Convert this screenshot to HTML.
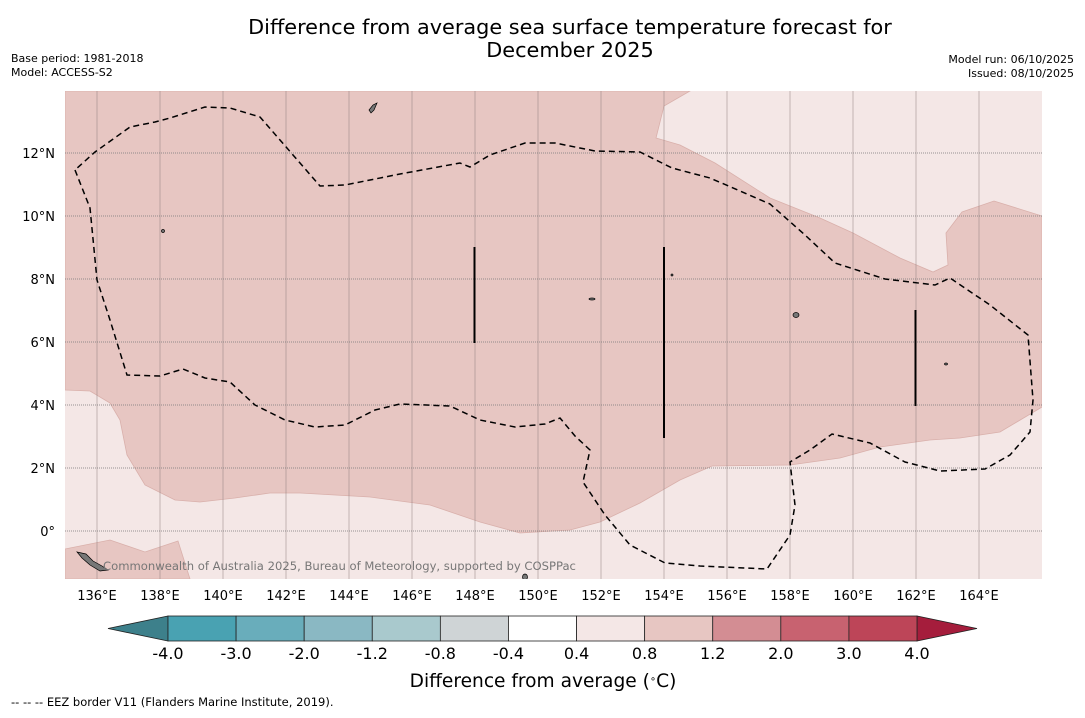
<!DOCTYPE html>
<html><head><meta charset="utf-8"><style>
body{margin:0;background:#fff;font-family:"Liberation Sans","DejaVu Sans",sans-serif}
svg text{font-family:"DejaVu Sans","Liberation Sans",sans-serif}
</style></head><body>
<svg id="chart" width="1085" height="713" viewBox="0 0 1085 713" xmlns="http://www.w3.org/2000/svg">
<rect width="1085" height="713" fill="#fff"/>
<text x="570" y="34" font-size="20.8" text-anchor="middle">Difference from average sea surface temperature forecast for</text>
<text x="570" y="57" font-size="20.8" text-anchor="middle">December 2025</text>
<text x="11" y="62" font-size="11">Base period: 1981-2018</text>
<text x="11" y="76" font-size="11">Model: ACCESS-S2</text>
<text x="1074" y="63" font-size="11" text-anchor="end">Model run: 06/10/2025</text>
<text x="1074" y="77" font-size="11" text-anchor="end">Issued: 08/10/2025</text>
<defs><clipPath id="mc"><rect x="65" y="91" width="977" height="488"/></clipPath></defs>
<g clip-path="url(#mc)">
<rect x="65" y="91" width="977" height="488" fill="#f4e7e6"/>
<polygon fill="#e7c6c2" stroke="#d9b0ab" stroke-width="0.8" points="65,91 690,91 664,106 656,138 680,145 715,163 770,198 820,218 853,233 900,258 933,272 948,265 946,233 962,212 994,201 1042,216 1042,407 1000,432 960,438 930,440 880,447 840,458 790,465 712,466 680,480 640,503 600,522 570,530 520,533 480,522 430,505 370,497 300,493 270,493 235,498 200,502 175,500 145,485 127,455 120,420 110,403 90,391 65,390"/>
<polygon fill="#e7c6c2" stroke="#d9b0ab" stroke-width="0.8" points="65,549 110,540 145,552 178,541 190,579 65,579"/>
<g id="grid"></g>
<polyline fill="none" stroke="#000" stroke-width="1.5" stroke-dasharray="6,4" points="75,170 90,208 97,280 110,320 127,375 160,376 183,369 205,378 230,382 255,405 285,420 315,427 345,425 375,410 400,404 450,406 480,420 515,427 545,424 560,418 575,436 590,450 583,482 605,515 630,545 665,563 700,566 767,569 790,535 795,505 790,462 810,450 832,434 870,443 905,462 940,471 985,469 1010,455 1030,432 1033,400 1028,335 990,305 950,278 935,285 885,279 835,263 805,235 770,204 710,178 672,168 640,152 595,151 555,143 525,143 490,155 470,167 460,163 400,174 345,185 320,186 300,163 260,117 230,108 205,107 170,118 155,122 130,127 95,152 75,170"/>
<line x1="474.5" y1="247" x2="474.5" y2="343" stroke="#000" stroke-width="2"/>
<line x1="664" y1="247" x2="664" y2="438" stroke="#000" stroke-width="2"/>
<line x1="915.5" y1="310" x2="915.5" y2="406" stroke="#000" stroke-width="2"/>
<g fill="#777" stroke="#000" stroke-width="0.7">
<path d="M77,552 L86,554 L93,561 L102,566 L108,570 L100,571 L90,565 L82,558Z"/>
<path d="M369,110 L373,105 L377,103 L374,110 L371,113Z"/>
<ellipse cx="796" cy="315" rx="3" ry="2.5"/>
<ellipse cx="163" cy="231" rx="1.5" ry="1.5"/>
<ellipse cx="592" cy="299" rx="3" ry="1"/>
<ellipse cx="946" cy="364" rx="1.5" ry="1"/>
<ellipse cx="525" cy="577" rx="2.5" ry="3"/>
<ellipse cx="672" cy="275" rx="1" ry="1"/>
</g>
<text x="103" y="570" font-size="11.6" fill="#777">Commonwealth of Australia 2025, Bureau of Meteorology, supported by COSPPac</text>
</g>
<g id="axes"></g>
<g id="cbar"></g>
<text x="543" y="687" font-size="18.6" text-anchor="middle">Difference from average (<tspan baseline-shift="super" font-size="10">∘</tspan>C)</text>
<text x="11" y="706" font-size="11.5">--  --  -- EEZ border V11 (Flanders Marine Institute, 2019).</text>
</svg>
<script>
const lonTicks=[136,138,140,142,144,146,148,150,152,154,156,158,160,162,164];
const latTicks=[0,2,4,6,8,10,12];
const cbLevels=[-4.0,-3.0,-2.0,-1.2,-0.8,-0.4,0.4,0.8,1.2,2.0,3.0,4.0];
const cbColors=["#49a2b2","#69adbb","#8ab8c3","#a9c9cd","#cfd4d6","#ffffff","#f4e7e6","#e7c6c2","#d38d93","#c86270","#bd4558"];
const cbLow="#3d808b", cbHigh="#a51d3c";
const NS="http://www.w3.org/2000/svg";
const X=lon=>97+(lon-136)*31.5, Y=lat=>531-lat*31.5;
function mk(p,t,a){const e=document.createElementNS(NS,t);for(const k in a)e.setAttribute(k,a[k]);p.appendChild(e);return e;}
const grid=document.getElementById('grid'),axes=document.getElementById('axes'),cb=document.getElementById('cbar');
lonTicks.forEach(l=>{
 const g=mk(grid,'line',{x1:X(l),x2:X(l),y1:91,y2:579,stroke:'#8c7c7c','stroke-width':0.8,'stroke-opacity':0.6});
 
 
 const t=mk(axes,'text',{x:X(l),y:600,'font-size':13,'text-anchor':'middle'});t.textContent=l+'°E';
 
 
});
latTicks.forEach(l=>{
 const g=mk(grid,'line',{x1:65,x2:1042,y1:Y(l),y2:Y(l),stroke:'#777','stroke-width':0.8,'stroke-dasharray':'1,1'});
 
 
 const t=mk(axes,'text',{x:55,y:Y(l)+5,'font-size':13,'text-anchor':'end'});t.textContent=l===0?'0°':l+'°N';
 
 
});
const c0=168,c1=917,cy=616,ch=25,n=cbColors.length,w=(c1-c0)/n;
const lt=mk(cb,'polygon',{points:`108,${cy+ch/2} ${c0},${cy} ${c0},${cy+ch}`,fill:cbLow,stroke:'#222','stroke-width':0.8});


const rt=mk(cb,'polygon',{points:`977,${cy+ch/2} ${c1},${cy} ${c1},${cy+ch}`,fill:cbHigh,stroke:'#222','stroke-width':0.8});


cbColors.forEach((c,i)=>{
 const r=mk(cb,'rect',{x:c0+i*w,y:cy,width:w,height:ch,fill:c,stroke:'#222','stroke-width':0.8});
 
 
});
cbLevels.forEach((v,i)=>{
 const t=mk(cb,'text',{x:c0+i*w,y:659,'font-size':16,'text-anchor':'middle'});t.textContent=v.toFixed(1);
 
 
});
</script>
</body></html>
